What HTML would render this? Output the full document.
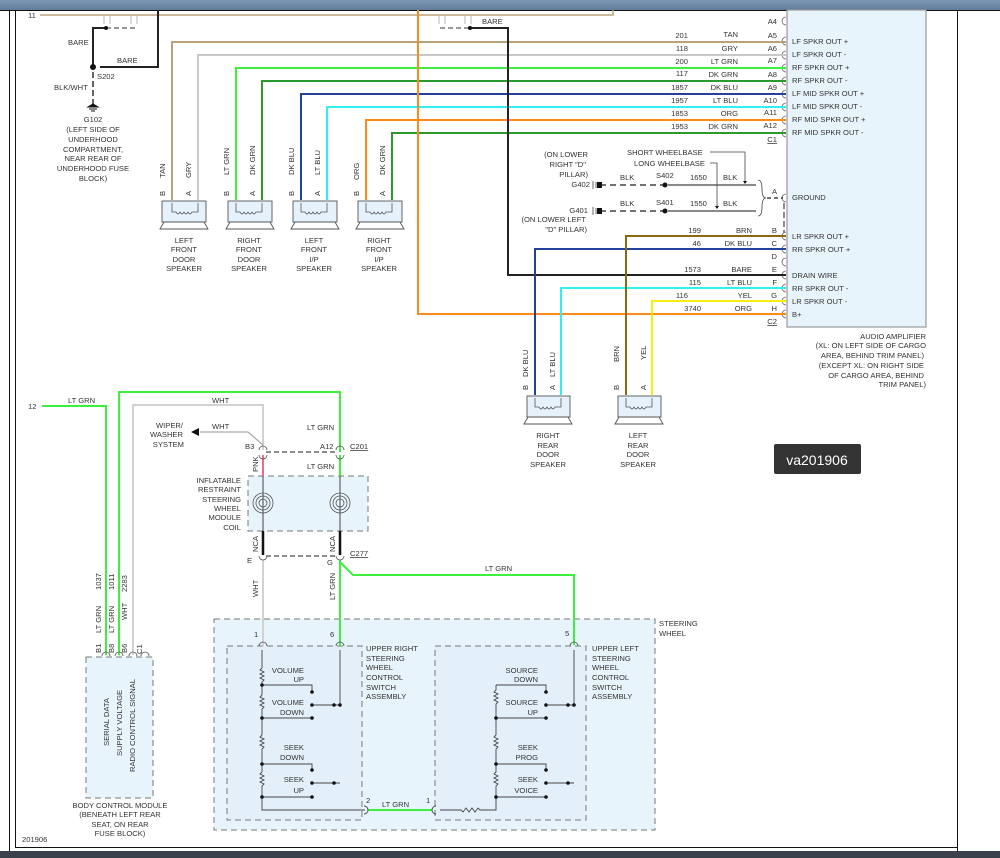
<!DOCTYPE html>
<html><head><meta charset="utf-8"><style>
html,body{margin:0;padding:0;background:#fff}
svg{display:block}
text{font-family:"Liberation Sans",sans-serif;font-size:7.6px;fill:#333}
</style></head><body>
<svg width="1000" height="858" viewBox="0 0 1000 858" xmlns="http://www.w3.org/2000/svg">
<defs><linearGradient id="tb" x1="0" y1="0" x2="0" y2="1"><stop offset="0" stop-color="#7d97b3"/><stop offset="1" stop-color="#5f7c9b"/></linearGradient></defs>
<rect x="0" y="0" width="1000" height="10" fill="url(#tb)"/>
<line x1="0" y1="10.5" x2="1000" y2="10.5" stroke="#111" stroke-width="1"/>
<rect x="0" y="851" width="1000" height="7" fill="#3b414b"/>
<line x1="9.5" y1="10" x2="9.5" y2="851" stroke="#111"/>
<line x1="15.5" y1="10" x2="15.5" y2="847" stroke="#111"/>
<line x1="15" y1="847.5" x2="957" y2="847.5" stroke="#111"/>
<line x1="957.5" y1="10" x2="957.5" y2="851" stroke="#111"/>

<!-- amplifier box -->
<rect x="787" y="10" width="139" height="317" fill="#e8f4fc" stroke="#999" stroke-width="1.2"/>
<g fill="none" stroke="#666" stroke-width="0.8">
<path d="M786 17 a4 4 0 0 0 0 8"/><path d="M786 37 a4 4 0 0 0 0 8"/><path d="M786 51 a4 4 0 0 0 0 8"/><path d="M786 64 a4 4 0 0 0 0 8"/><path d="M786 77 a4 4 0 0 0 0 8"/><path d="M786 90 a4 4 0 0 0 0 8"/><path d="M786 103 a4 4 0 0 0 0 8"/><path d="M786 116 a4 4 0 0 0 0 8"/><path d="M786 129 a4 4 0 0 0 0 8"/>
<path d="M786 194 a4 4 0 0 0 0 8"/><path d="M786 232 a4 4 0 0 0 0 8"/><path d="M786 245 a4 4 0 0 0 0 8"/><path d="M786 258 a4 4 0 0 0 0 8"/><path d="M786 271 a4 4 0 0 0 0 8"/><path d="M786 284 a4 4 0 0 0 0 8"/><path d="M786 297 a4 4 0 0 0 0 8"/><path d="M786 310 a4 4 0 0 0 0 8"/>
</g>
<line x1="784" y1="203" x2="784" y2="233" stroke="#666" stroke-width="1.5" stroke-dasharray="6,3"/>
<g>
<text x="792" y="44">LF SPKR OUT +</text><text x="792" y="57">LF SPKR OUT -</text><text x="792" y="70">RF SPKR OUT +</text><text x="792" y="83">RF SPKR OUT -</text><text x="792" y="96">LF MID SPKR OUT +</text><text x="792" y="109">LF MID SPKR OUT -</text><text x="792" y="122">RF MID SPKR OUT +</text><text x="792" y="135">RF MID SPKR OUT -</text>
<text x="792" y="200">GROUND</text><text x="792" y="239">LR SPKR OUT +</text><text x="792" y="252">RR SPKR OUT +</text><text x="792" y="278">DRAIN WIRE</text><text x="792" y="291">RR SPKR OUT -</text><text x="792" y="304">LR SPKR OUT -</text><text x="792" y="317">B+</text>
</g>
<g text-anchor="end">
<text x="777" y="24">A4</text><text x="777" y="38">A5</text><text x="777" y="51">A6</text><text x="777" y="63">A7</text><text x="777" y="77">A8</text><text x="777" y="90">A9</text><text x="777" y="103">A10</text><text x="777" y="115">A11</text><text x="777" y="128">A12</text><text x="777" y="142" text-decoration="underline">C1</text>
<text x="777" y="233">B</text><text x="777" y="246">C</text><text x="777" y="259">D</text><text x="777" y="272">E</text><text x="777" y="285">F</text><text x="777" y="298">G</text><text x="777" y="311">H</text><text x="777" y="324" text-decoration="underline">C2</text>
<text x="688" y="38">201</text><text x="738" y="37">TAN</text><text x="688" y="51">118</text><text x="738" y="51">GRY</text><text x="688" y="64">200</text><text x="738" y="64">LT GRN</text><text x="688" y="76">117</text><text x="738" y="77">DK GRN</text><text x="688" y="90">1857</text><text x="738" y="90">DK BLU</text><text x="688" y="103">1957</text><text x="738" y="103">LT BLU</text><text x="688" y="116">1853</text><text x="738" y="116">ORG</text><text x="688" y="129">1953</text><text x="738" y="129">DK GRN</text>
<text x="701" y="233">199</text><text x="752" y="233">BRN</text><text x="701" y="246">46</text><text x="752" y="246">DK BLU</text><text x="701" y="272">1573</text><text x="752" y="272">BARE</text><text x="701" y="285">115</text><text x="752" y="285">LT BLU</text><text x="688" y="298">116</text><text x="752" y="298">YEL</text><text x="701" y="311">3740</text><text x="752" y="311">ORG</text>
<text x="926" y="339">AUDIO AMPLIFIER</text><text x="926" y="348">(XL: ON LEFT SIDE OF CARGO</text><text x="924" y="358">AREA, BEHIND TRIM PANEL)</text><text x="924" y="368">(EXCEPT XL: ON RIGHT SIDE</text><text x="924" y="378">OF CARGO AREA, BEHIND</text><text x="926" y="387">TRIM PANEL)</text>
</g>

<!-- top wires -->
<g fill="none" stroke-width="2">
<path d="M40 15 H613 V10" stroke="#b8a27a" stroke-width="1.5"/>
<path d="M172 200 V42 H786" stroke="#b8a27a"/>
<path d="M198 200 V55 H786" stroke="#c8c8c8"/>
<path d="M236 200 V68 H786" stroke="#3ef03e"/>
<path d="M262 200 V81 H786" stroke="#2a9a2a"/>
<path d="M301 200 V94 H786" stroke="#23409a"/>
<path d="M327 200 V107 H786" stroke="#2ef0f0"/>
<path d="M366 200 V120 H786" stroke="#ff8a1a"/>
<path d="M392 200 V133 H786" stroke="#2a9a2a"/>
<path d="M418 10 V314 H786" stroke="#ff8a1a"/>
<path d="M470 28 H508 V275 H786" stroke="#222"/>
<path d="M535 395 V249 H786" stroke="#23409a"/>
<path d="M561 395 V288 H786" stroke="#2ef0f0"/>
<path d="M626 395 V236 H786" stroke="#8a6a10"/>
<path d="M652 395 V301 H786" stroke="#f5ee10"/>
<path d="M93 67 V28 H105" stroke="#222"/>
<path d="M100 67 H158 V10" stroke="#222"/>
</g>
<g stroke="#777" stroke-width="1.5" stroke-dasharray="5,3" fill="none">
<path d="M106 28 H136"/><path d="M440 28 H470"/>
<path d="M93 72 V104" stroke="#333" stroke-dasharray="6,3"/>
</g>
<g stroke="#999" stroke-width="0.7" fill="none"><path d="M104 16v8M110 16v8M131 16v8M137 16v8M439 16v8M445 16v8M465 16v8M471 16v8"/></g>
<circle cx="93" cy="67" r="3" fill="#111"/><circle cx="106" cy="28" r="2" fill="#111"/><circle cx="470" cy="28" r="2" fill="#111"/>
<path d="M88 107 h10 l-5 -3z M89 109h8M91 111h4" stroke="#111" fill="#111"/>
<text x="28" y="18">11</text>
<text x="68" y="45">BARE</text><text x="117" y="63">BARE</text><text x="97" y="79">S202</text><text x="54" y="90">BLK/WHT</text><text x="482" y="24">BARE</text>
<g text-anchor="middle"><text x="93" y="122">G102</text><text x="93" y="132">(LEFT SIDE OF</text><text x="93" y="142">UNDERHOOD</text><text x="93" y="152">COMPARTMENT,</text><text x="93" y="161">NEAR REAR OF</text><text x="93" y="171">UNDERHOOD FUSE</text><text x="93" y="181">BLOCK)</text></g>

<!-- speakers -->
<g id="spk" fill="#e6f2fb" stroke="#555" stroke-width="0.9">
<rect x="162" y="201" width="44" height="21"/><path d="M160 229 L164 222 H204 L208 229 Z" fill="#fff"/>
<rect x="228" y="201" width="44" height="21"/><path d="M226 229 L230 222 H270 L274 229 Z" fill="#fff"/>
<rect x="293" y="201" width="44" height="21"/><path d="M291 229 L295 222 H335 L339 229 Z" fill="#fff"/>
<rect x="358" y="201" width="44" height="21"/><path d="M356 229 L360 222 H400 L404 229 Z" fill="#fff"/>
<rect x="527" y="396" width="43" height="21"/><path d="M524 424 L528 417 H568 L572 424 Z" fill="#fff"/>
<rect x="618" y="396" width="43" height="21"/><path d="M615 424 L619 417 H659 L663 424 Z" fill="#fff"/>
</g>
<g fill="none" stroke="#555" stroke-width="0.8">
<path d="M172 203 v9 h4 q2 4 4 0 q2 4 4 0 q2 4 4 0 q2 4 4 0 h6 v-9"/>
<path d="M236 203 v9 h4 q2 4 4 0 q2 4 4 0 q2 4 4 0 q2 4 4 0 h6 v-9"/>
<path d="M301 203 v9 h4 q2 4 4 0 q2 4 4 0 q2 4 4 0 q2 4 4 0 h6 v-9"/>
<path d="M366 203 v9 h4 q2 4 4 0 q2 4 4 0 q2 4 4 0 q2 4 4 0 h6 v-9"/>
<path d="M535 398 v9 h4 q2 4 4 0 q2 4 4 0 q2 4 4 0 q2 4 4 0 h6 v-9"/>
<path d="M626 398 v9 h4 q2 4 4 0 q2 4 4 0 q2 4 4 0 q2 4 4 0 h6 v-9"/>
</g>
<g font-size="7">
<text transform="translate(165,196) rotate(-90)">B</text><text transform="translate(191,196) rotate(-90)">A</text><text transform="translate(165,178) rotate(-90)">TAN</text><text transform="translate(191,178) rotate(-90)">GRY</text>
<text transform="translate(229,196) rotate(-90)">B</text><text transform="translate(255,196) rotate(-90)">A</text><text transform="translate(229,175) rotate(-90)">LT GRN</text><text transform="translate(255,175) rotate(-90)">DK GRN</text>
<text transform="translate(294,196) rotate(-90)">B</text><text transform="translate(320,196) rotate(-90)">A</text><text transform="translate(294,175) rotate(-90)">DK BLU</text><text transform="translate(320,175) rotate(-90)">LT BLU</text>
<text transform="translate(359,196) rotate(-90)">B</text><text transform="translate(385,196) rotate(-90)">A</text><text transform="translate(359,180) rotate(-90)">ORG</text><text transform="translate(385,175) rotate(-90)">DK GRN</text>
<text transform="translate(528,390) rotate(-90)">B</text><text transform="translate(555,390) rotate(-90)">A</text><text transform="translate(528,377) rotate(-90)">DK BLU</text><text transform="translate(555,377) rotate(-90)">LT BLU</text>
<text transform="translate(619,390) rotate(-90)">B</text><text transform="translate(646,390) rotate(-90)">A</text><text transform="translate(619,362) rotate(-90)">BRN</text><text transform="translate(646,360) rotate(-90)">YEL</text>
</g>
<g text-anchor="middle">
<text x="184" y="243">LEFT</text><text x="184" y="252">FRONT</text><text x="184" y="262">DOOR</text><text x="184" y="271">SPEAKER</text>
<text x="249" y="243">RIGHT</text><text x="249" y="252">FRONT</text><text x="249" y="262">DOOR</text><text x="249" y="271">SPEAKER</text>
<text x="314" y="243">LEFT</text><text x="314" y="252">FRONT</text><text x="314" y="262">I/P</text><text x="314" y="271">SPEAKER</text>
<text x="379" y="243">RIGHT</text><text x="379" y="252">FRONT</text><text x="379" y="262">I/P</text><text x="379" y="271">SPEAKER</text>
<text x="548" y="438">RIGHT</text><text x="548" y="448">REAR</text><text x="548" y="457">DOOR</text><text x="548" y="467">SPEAKER</text>
<text x="638" y="438">LEFT</text><text x="638" y="448">REAR</text><text x="638" y="457">DOOR</text><text x="638" y="467">SPEAKER</text>
</g>

<!-- ground -->
<g stroke="#444" fill="none">
<path d="M600 185 H665 M600 211 H665" stroke-width="1.5" stroke-dasharray="6,4"/>
<path d="M668 185 H756 M668 211 H756" stroke-width="1.3"/>
<path d="M710 152 H745 V182 M710 163 H717 V207" stroke-width="0.8"/>
<path d="M758 180 q4 0 4 9 q0 9 4 9 q-4 0 -4 9 q0 9 -4 9" stroke-width="0.8"/>
<path d="M767 198 H783" stroke-width="1.5" stroke-dasharray="4,3"/>
<path d="M593 181v8M596 182v6M593 207v8M596 208v6" stroke-width="0.8"/>
</g>
<rect x="597" y="182" width="5" height="6" fill="#111"/><rect x="597" y="208" width="5" height="6" fill="#111"/>
<circle cx="665" cy="185" r="2.5" fill="#111"/><circle cx="665" cy="211" r="2.5" fill="#111"/>
<path d="M743 181h4l-2 3z M715 206h4l-2 3z" fill="#111"/>
<text x="627" y="155">SHORT WHEELBASE</text><text x="634" y="166">LONG WHEELBASE</text>
<text x="620" y="180">BLK</text><text x="656" y="178">S402</text><text x="690" y="180">1650</text><text x="723" y="180">BLK</text>
<text x="620" y="206">BLK</text><text x="656" y="205">S401</text><text x="690" y="206">1550</text><text x="723" y="206">BLK</text>
<text x="772" y="194">A</text>
<g text-anchor="end"><text x="588" y="157">(ON LOWER</text><text x="586" y="167">RIGHT "D"</text><text x="588" y="177">PILLAR)</text><text x="590" y="187">G402</text><text x="588" y="213">G401</text><text x="586" y="222">(ON LOWER LEFT</text><text x="587" y="232">"D" PILLAR)</text></g>

<!-- lower section -->
<rect x="214" y="619" width="441" height="211" fill="#e8f4fc" stroke="#777" stroke-dasharray="6,4"/>
<rect x="227" y="646" width="135" height="174" fill="#e3f0fa" stroke="#777" stroke-dasharray="6,4"/>
<rect x="435" y="646" width="151" height="174" fill="#e3f0fa" stroke="#777" stroke-dasharray="6,4"/>
<rect x="248" y="476" width="120" height="55" fill="#e8f4fc" stroke="#777" stroke-dasharray="6,4"/>
<rect x="86" y="657" width="67" height="141" fill="#e8f4fc" stroke="#777" stroke-dasharray="6,4"/>

<g fill="none" stroke-width="2">
<path d="M42 406 H106 V655" stroke="#3ef03e"/>
<path d="M119 655 V392 H340 V452" stroke="#3ef03e"/>
<path d="M340 455 V476" stroke="#3ef03e"/>
<path d="M133 655 V405 H263 V450" stroke="#d2d2d2"/>
<path d="M263 455 V476" stroke="#f06a8a"/>
<path d="M263 560 V646" stroke="#d2d2d2"/>
<path d="M340 560 V646" stroke="#3ef03e"/>
<path d="M340 562 L353 575 H574 V645" stroke="#3ef03e"/>
<path d="M368 810 H432" stroke="#3ef03e"/>
<path d="M263 531 V555 M340 531 V555" stroke="#111" stroke-width="2.5"/>
<path d="M263 476 V531 M340 476 V531" stroke="#444" stroke-width="1"/>
</g>
<path d="M248 432 H200 M248 432 L263 445" stroke="#aaa" stroke-width="1.3" fill="none"/>
<path d="M191 432 l8 -4 v8z" fill="#111"/>
<g stroke="#666" stroke-width="1.5" stroke-dasharray="5,3"><path d="M266 452 H337 M266 556 H337"/></g>
<g fill="none" stroke="#555" stroke-width="0.8">
<path d="M259 450 a4 4 0 0 1 8 0 M259 455 a4 4 0 0 0 8 0 M336 450 a4 4 0 0 1 8 0 M336 455 a4 4 0 0 0 8 0"/>
<path d="M259 556 a4 4 0 0 0 8 0 M336 556 a4 4 0 0 0 8 0 M259 646 a4 4 0 0 1 8 0 M336 646 a4 4 0 0 1 8 0 M570 646 a4 4 0 0 1 8 0"/>
<path d="M102 656 a4 4 0 0 1 8 0 M115 656 a4 4 0 0 1 8 0 M129 656 a4 4 0 0 1 8 0 M141 656 a4 4 0 0 1 8 0"/>
<circle cx="263" cy="503" r="10"/><circle cx="263" cy="503" r="7"/><circle cx="263" cy="503" r="4"/>
<circle cx="340" cy="503" r="10"/><circle cx="340" cy="503" r="7"/><circle cx="340" cy="503" r="4"/>
</g>
<!-- switch circuits -->
<g fill="none" stroke="#444" stroke-width="0.9">
<path d="M262 650 V668 l-2 2 4 2 -4 2 4 2 -4 2 4 2 -2 2 V685 H312 V692"/>
<path d="M262 685 V695 l-2 2 4 2 -4 2 4 2 -4 2 4 2 -2 2 V718 H312"/>
<path d="M262 718 V735 l-2 2 4 2 -4 2 4 2 -4 2 4 2 -2 2 V764 H312 V770"/>
<path d="M262 764 V772 l-2 2 4 2 -4 2 4 2 -4 2 4 2 -2 2 V797 H312"/>
<path d="M262 797 V810 H365"/>
<path d="M340 650 V705 H314 M340 783 H314"/>
<path d="M496 685 H546 V692 M496 685 V690 l-2 2 4 2 -4 2 4 2 -4 2 4 2 -2 2 V718 H546"/>
<path d="M496 718 V735 l-2 2 4 2 -4 2 4 2 -4 2 4 2 -2 2 V764 H546 V770"/>
<path d="M496 764 V772 l-2 2 4 2 -4 2 4 2 -4 2 4 2 -2 2 V797 H546 M496 797 V810 H480 l-2 -2 -3 4 -3 -4 -3 4 -3 -4 -3 4 -2 -2 H440"/>
<path d="M574 650 V705 H548 M574 783 H548"/>
<path d="M364 806 a4 4 0 0 1 0 8 M436 806 a4 4 0 0 0 0 8"/>
</g>
<g fill="#111">
<circle cx="262" cy="685" r="1.8"/><circle cx="262" cy="718" r="1.8"/><circle cx="262" cy="764" r="1.8"/><circle cx="262" cy="797" r="1.8"/>
<circle cx="312" cy="692" r="1.8"/><circle cx="312" cy="705" r="1.8"/><circle cx="312" cy="718" r="1.8"/><circle cx="312" cy="770" r="1.8"/><circle cx="312" cy="783" r="1.8"/><circle cx="312" cy="797" r="1.8"/><circle cx="334" cy="705" r="1.8"/><circle cx="340" cy="705" r="1.8"/><circle cx="334" cy="783" r="1.8"/>
<circle cx="496" cy="718" r="1.8"/><circle cx="496" cy="764" r="1.8"/><circle cx="496" cy="797" r="1.8"/>
<circle cx="546" cy="692" r="1.8"/><circle cx="546" cy="705" r="1.8"/><circle cx="546" cy="718" r="1.8"/><circle cx="546" cy="770" r="1.8"/><circle cx="546" cy="783" r="1.8"/><circle cx="546" cy="797" r="1.8"/><circle cx="568" cy="705" r="1.8"/><circle cx="574" cy="705" r="1.8"/><circle cx="568" cy="783" r="1.8"/>
</g>
<g>
<text x="28" y="409">12</text><text x="68" y="403">LT GRN</text><text x="212" y="403">WHT</text><text x="212" y="429">WHT</text>
<text x="307" y="430">LT GRN</text><text x="307" y="469">LT GRN</text><text x="245" y="449">B3</text><text x="320" y="449">A12</text><text x="350" y="449" text-decoration="underline">C201</text>
<text x="350" y="556" text-decoration="underline">C277</text><text x="247" y="563">E</text><text x="327" y="565">G</text>
<text x="485" y="571">LT GRN</text><text x="382" y="807">LT GRN</text>
<text x="254" y="637">1</text><text x="330" y="637">6</text><text x="565" y="636">5</text><text x="366" y="803">2</text><text x="426" y="803">1</text>
<text x="659" y="626">STEERING</text><text x="659" y="636">WHEEL</text>
<text x="366" y="651">UPPER RIGHT</text><text x="366" y="661">STEERING</text><text x="366" y="670">WHEEL</text><text x="366" y="680">CONTROL</text><text x="366" y="690">SWITCH</text><text x="366" y="699">ASSEMBLY</text>
<text x="592" y="651">UPPER LEFT</text><text x="592" y="661">STEERING</text><text x="592" y="670">WHEEL</text><text x="592" y="680">CONTROL</text><text x="592" y="690">SWITCH</text><text x="592" y="699">ASSEMBLY</text>
<text x="22" y="842">201906</text>
</g>
<g text-anchor="end">
<text x="183" y="428">WIPER/</text><text x="183" y="437">WASHER</text><text x="184" y="447">SYSTEM</text>
<text x="241" y="483">INFLATABLE</text><text x="241" y="492">RESTRAINT</text><text x="241" y="502">STEERING</text><text x="241" y="511">WHEEL</text><text x="241" y="520">MODULE</text><text x="241" y="530">COIL</text>
<text x="304" y="673">VOLUME</text><text x="304" y="682">UP</text><text x="304" y="705">VOLUME</text><text x="304" y="715">DOWN</text>
<text x="304" y="750">SEEK</text><text x="304" y="760">DOWN</text><text x="304" y="782">SEEK</text><text x="304" y="793">UP</text>
<text x="538" y="673">SOURCE</text><text x="538" y="682">DOWN</text><text x="538" y="705">SOURCE</text><text x="538" y="715">UP</text>
<text x="538" y="750">SEEK</text><text x="538" y="760">PROG</text><text x="538" y="782">SEEK</text><text x="538" y="793">VOICE</text>
</g>
<g text-anchor="middle"><text x="120" y="808">BODY CONTROL MODULE</text><text x="120" y="817">(BENEATH LEFT REAR</text><text x="120" y="827">SEAT, ON REAR</text><text x="120" y="836">FUSE BLOCK)</text></g>
<g font-size="7">
<text transform="translate(258,472) rotate(-90)">PNK</text>
<text transform="translate(258,552) rotate(-90)">NCA</text><text transform="translate(335,552) rotate(-90)">NCA</text>
<text transform="translate(258,597) rotate(-90)">WHT</text><text transform="translate(335,600) rotate(-90)">LT GRN</text>
<text transform="translate(101,590) rotate(-90)">1037</text><text transform="translate(114,590) rotate(-90)">1011</text><text transform="translate(127,592) rotate(-90)">2283</text>
<text transform="translate(101,633) rotate(-90)">LT GRN</text><text transform="translate(114,633) rotate(-90)">LT GRN</text><text transform="translate(127,620) rotate(-90)">WHT</text>
<text transform="translate(101,653) rotate(-90)">B1</text><text transform="translate(114,653) rotate(-90)">B8</text><text transform="translate(127,653) rotate(-90)">B6</text><text transform="translate(142,654) rotate(-90)">C1</text>
<text transform="translate(109,746) rotate(-90)" font-size="7.6">SERIAL DATA</text><text transform="translate(122,756) rotate(-90)" font-size="7.6">SUPPLY VOLTAGE</text><text transform="translate(135,772) rotate(-90)" font-size="7.6">RADIO CONTROL SIGNAL</text>
</g>
<rect x="774" y="444" width="87" height="30" rx="2" fill="#333"/>
<text x="817" y="465" text-anchor="middle" style="font-size:14px;fill:#fff">va201906</text>
</svg>
</body></html>
